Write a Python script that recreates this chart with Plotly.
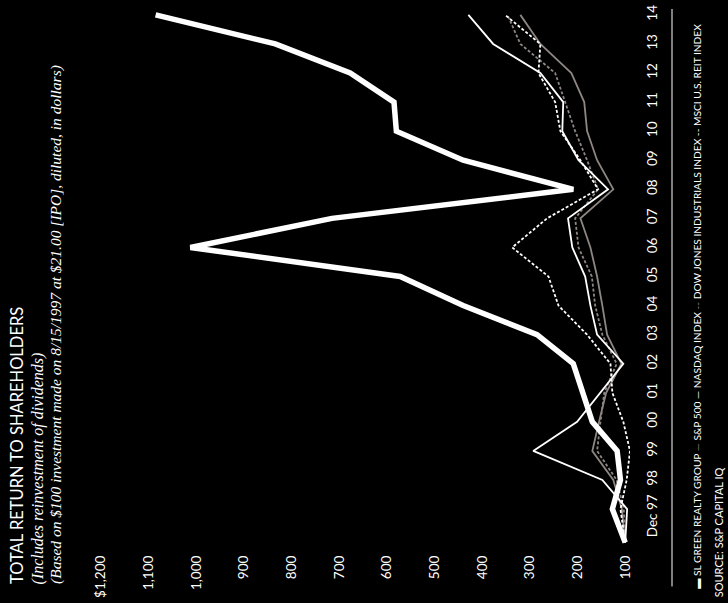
import plotly.graph_objects as go

# Periods: IPO date, then year-end values
periods = ["8/15/97", "Dec 97", "98", "99", "00", "01", "02", "03", "04", "05",
           "06", "07", "08", "09", "10", "11", "12", "13", "14"]
period_pos = [-1.15, 0, 1, 2, 3, 4, 5, 6, 7, 8, 9, 10, 11, 12, 13, 14, 15, 16, 17]

sl_green = [100, 127, 110, 117, 169, 190, 209, 285, 440, 572, 1012, 715, 209, 440, 580, 585, 677, 834, 1085]
sp500 = [100, 107, 125, 169, 155, 140, 108, 138, 148, 159, 173, 194, 125, 159, 180, 186, 213, 278, 320]
nasdaq = [100, 96, 148, 293, 201, 152, 104, 159, 173, 184, 211, 220, 136, 198, 232, 230, 278, 377, 429]
dow_jones = [100, 103, 118, 159, 152, 144, 118, 148, 163, 170, 198, 205, 157, 180, 205, 226, 247, 320, 347]
msci_reit = [100, 110, 97, 90, 104, 127, 131, 180, 240, 261, 337, 264, 157, 194, 236, 247, 282, 278, 352]

value_ticks = [100, 200, 300, 400, 500, 600, 700, 800, 900, 1000, 1100, 1200]
value_tick_labels = ["100", "200", "300", "400", "500", "600", "700", "800", "900",
                     "1,000", "1,100", "$1,200"]
year_tick_pos = [-0.3] + list(range(1, 18))
year_tick_labels = periods[1:]

GRAY = "#8e8682"
WHITE = "#ffffff"
SANS = "Lato"
SERIF = "Liberation Serif"

W, H = 728, 603
L, R, T, B = 96, 98, 5, 48
PW, PH = W - L - R, H - T - B


def px_x(px):
    return (px - L) / PW


def px_y(py):
    return (H - B - py) / PH


fig = go.Figure()

thin = [
    (sp500, "S&P 500", GRAY, "solid"),
    (dow_jones, "Dow Jones Industrials Index", GRAY, "3px,2px"),
    (msci_reit, "MSCI U.S. REIT Index", WHITE, "3px,2px"),
    (nasdaq, "NASDAQ Index", WHITE, "solid"),
]
for vals, name, color, dash in thin:
    fig.add_trace(go.Scatter(
        x=vals, y=period_pos, mode="lines", name=name,
        line=dict(color=color, width=1.8, dash=dash),
        showlegend=False, hoverinfo="skip",
    ))

fig.add_trace(go.Scatter(
    x=sl_green, y=period_pos, mode="lines", name="SL Green Realty Group",
    line=dict(color=WHITE, width=5.5),
    showlegend=False, hoverinfo="skip",
))

fig.update_layout(
    width=W, height=H,
    margin=dict(l=L, r=R, t=T, b=B, pad=0),
    paper_bgcolor="black", plot_bgcolor="black",
    font=dict(family=SANS, color=WHITE),
    xaxis=dict(
        range=[1210, 90], showgrid=False, zeroline=False, showline=False,
        tickmode="array", tickvals=value_ticks, ticktext=value_tick_labels,
        tickangle=-90, tickfont=dict(family=SANS, size=13.5, color=WHITE),
        ticks="", ticklabelstandoff=3,
    ),
    yaxis=dict(
        range=[-1.373, 17.271], side="right", showgrid=False, zeroline=False,
        showline=False, tickmode="array", tickvals=year_tick_pos,
        ticktext=year_tick_labels, tickangle=-90,
        tickfont=dict(family=SANS, size=13.5, color=WHITE),
        ticks="", ticklabelstandoff=12,
    ),
)

annotations = [
    dict(text="TOTAL RETURN TO SHAREHOLDERS", x=px_x(17), y=px_y(593),
         font=dict(family=SANS, size=16.5, color=WHITE)),
    dict(text="<i>(Includes reinvestment of dividends)</i>", x=px_x(38), y=px_y(593),
         font=dict(family=SERIF, size=16, color=WHITE)),
    dict(text="<i>(Based on $100 investment made on 8/15/1997 at $21.00 [IPO], diluted, in dollars)</i>",
         x=px_x(56), y=px_y(593),
         font=dict(family=SERIF, size=15.5, color=WHITE)),
    dict(text=("<span style='color:#ffffff'>\u25ac</span> SL GREEN REALTY GROUP "
               f"<span style='color:{GRAY}'>\u2014</span> S&amp;P 500 "
               "\u2014 NASDAQ INDEX "
               f"<span style='color:{GRAY}'>--</span> DOW JONES INDUSTRIALS INDEX "
               "-- MSCI U.S. REIT INDEX"),
         x=px_x(697), y=px_y(598),
         font=dict(family=SANS, size=10.2, color=WHITE)),
    dict(text="SOURCE: S&amp;P CAPITAL IQ", x=px_x(718), y=px_y(606),
         font=dict(family=SANS, size=11, color=WHITE)),
]
for a in annotations:
    fig.add_annotation(xref="paper", yref="paper", showarrow=False, textangle=-90,
                       xanchor="center", yanchor="bottom", **a)

fig.add_shape(type="line", xref="paper", yref="paper",
              x0=px_x(672), x1=px_x(672), y0=px_y(7), y1=px_y(593),
              line=dict(color=WHITE, width=1))

fig.write_html("out.html")
